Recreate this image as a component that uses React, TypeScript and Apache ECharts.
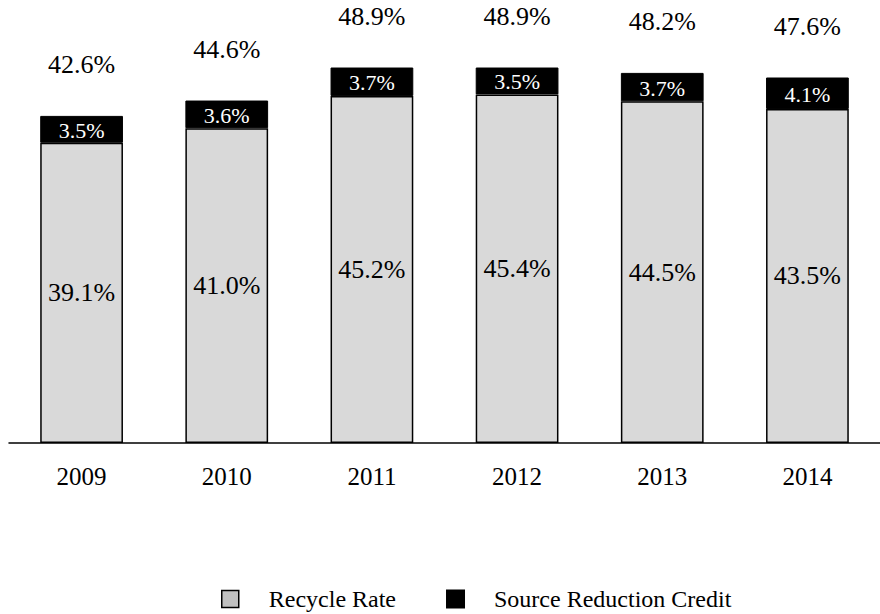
import React, { useEffect, useRef } from "react";
import * as echarts from "echarts";

const years = ["2009", "2010", "2011", "2012", "2013", "2014"];
const recycleRate = [39.1, 41.0, 45.2, 45.4, 44.5, 43.5];
const sourceReduction = [3.5, 3.6, 3.7, 3.5, 3.7, 4.1];
const totals = [42.6, 44.6, 48.9, 48.9, 48.2, 47.6];

const FONT = "Liberation Serif";

export default function App() {
  const ref = useRef<HTMLDivElement>(null);
  useEffect(() => {
    if (!ref.current) return;
    const chart = echarts.init(ref.current, null, { renderer: "svg" });

    const textSeries = (
      name: string,
      data: number[][],
      size: number,
      color: string,
      dy: number
    ) => ({
      name,
      type: "custom",
      silent: true,
      z: 10,
      data,
      renderItem: (params: any, api: any) => {
        const pt = api.coord([api.value(0), api.value(1)]);
        return {
          type: "text",
          x: pt[0],
          y: pt[1] + dy,
          style: {
            text: api.value(2).toFixed(1) + "%",
            fontFamily: FONT,
            fontSize: size,
            fill: color,
            align: "center",
            verticalAlign: "middle",
          },
        };
      },
    });

    chart.setOption({
      animation: false,
      textStyle: { fontFamily: FONT },
      grid: { left: 9, width: 882, top: 13, bottom: 171, containLabel: false },
      xAxis: {
        type: "category",
        data: years,
        axisLine: { show: true, lineStyle: { color: "#000", width: 1.5 } },
        axisTick: { show: false },
        axisLabel: { color: "#000", fontSize: 25, fontFamily: FONT, margin: 21 },
      },
      yAxis: {
        type: "value",
        min: 0,
        max: 56,
        show: false,
        splitLine: { show: false },
      },
      legend: {
        left: 216,
        top: 581,
        itemWidth: 17,
        itemHeight: 17,
        itemGap: 50,
        icon: "rect",
        textStyle: { color: "#000", fontSize: 24, lineHeight: 26, fontFamily: FONT, padding: [0, 0, 0, 25] },
        data: [
          { name: "Recycle Rate", itemStyle: { color: "#c0c0c0", borderColor: "#000", borderWidth: 1.5 } },
          { name: "Source Reduction Credit", itemStyle: { color: "#000" } },
        ],
      },
      series: [
        {
          name: "Recycle Rate",
          type: "bar",
          stack: "total",
          barWidth: "57%",
          data: recycleRate,
          itemStyle: { color: "#d9d9d9", borderColor: "#000", borderWidth: 1.5 },
        },
        {
          name: "Source Reduction Credit",
          type: "bar",
          stack: "total",
          data: sourceReduction,
          itemStyle: { color: "#000", borderColor: "#000", borderWidth: 1 },
        },
        textSeries(
          "rrLabels",
          recycleRate.map((v, i) => [i, v / 2, v]),
          26,
          "#000",
          0
        ),
        textSeries(
          "srcLabels",
          sourceReduction.map((v, i) => [i, recycleRate[i] + v / 2, v]),
          22,
          "#fff",
          1
        ),
        textSeries(
          "totalLabels",
          totals.map((v, i) => [i, v, v]),
          26,
          "#000",
          -51
        ),
      ],
    });
    return () => chart.dispose();
  }, []);
  return (
    <div
      ref={ref}
      style={{ position: "absolute", left: 0, top: 0, width: 880, height: 614, background: "#fff" }}
    />
  );
}
